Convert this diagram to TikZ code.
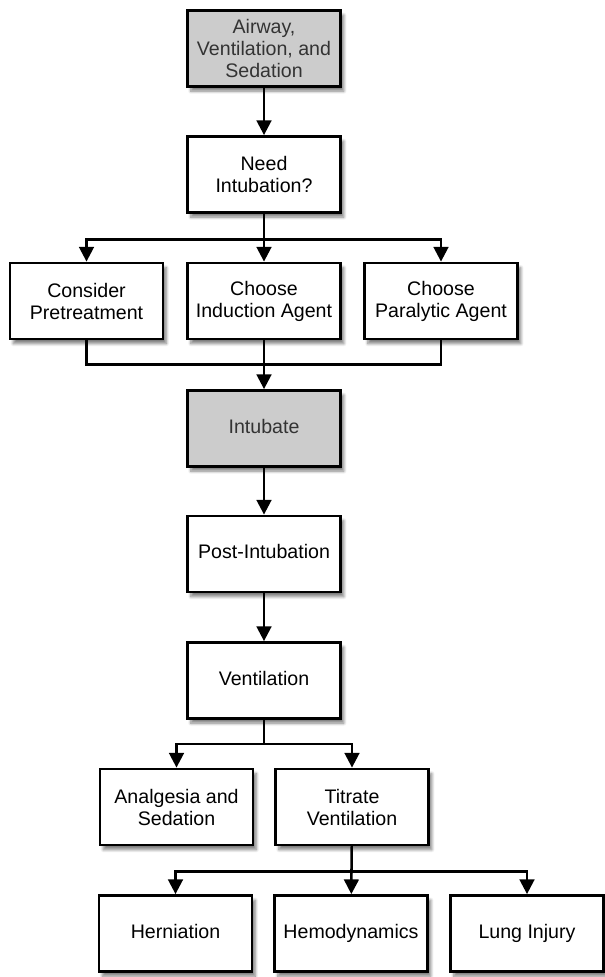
\documentclass[tikz,border=0pt]{standalone}
\usepackage{fontspec}
\setmainfont{Liberation Sans}
\usetikzlibrary{arrows.meta,shadows.blur}

\begin{document}
\begin{tikzpicture}[x=0.75pt,y=-0.75pt,
		box/.style={draw, line width=2.1pt, fill=white, align=center,
			minimum width=114.75pt, minimum height=57pt,
			font=\fontsize{14.7}{16.5}\selectfont,
			blur shadow={shadow xshift=2.5pt, shadow yshift=-3.5pt, shadow blur steps=8, shadow opacity=50}},
		keybox/.style={box, fill=gray!40, text=black!80},
		single/.style={text height=0.72em, text depth=0pt},
		arr/.style={line width=1.9pt, -{Triangle[width=11pt,length=11pt]}},
		link/.style={line width=1.9pt}]
	\useasboundingbox (0,0) rectangle (605,977);

	% main column
	\node[keybox] (air) at (264,48.5) {Airway,\\Ventilation, and\\Sedation};
	\node[box] (need) at (264,174.5) {Need\\Intubation?};

	% preparation
	\node[box] (pre) at (86.5,301) {Consider\\Pretreatment};
	\node[box] (ind) at (264,301) {Choose\\Induction Agent};
	\node[box] (para) at (441,301) {Choose\\Paralytic Agent};

	\node[keybox, single] (intub) at (264,428.5) {Intubate};
	\node[box, single] (post) at (264,554) {Post-Intubation};
	\node[box, single] (vent) at (264,680.5) {Ventilation};

	% ventilation care
	\node[box] (anal) at (176.5,807) {Analgesia and\\Sedation};
	\node[box] (titr) at (352,807) {Titrate\\Ventilation};

	\node[box, single] (hern) at (175.5,933.5) {Herniation};
	\node[box, single] (hemo) at (351,933.5) {Hemodynamics};
	\node[box, single] (lung) at (527,933.5) {Lung Injury};

	\draw[arr] (air) -- (need);
	\draw[arr] (need.south) -- ++(0,25.5) -| (pre.north);
	\draw[arr] (need) -- (ind);
	\draw[arr] (need.south) -- ++(0,25.5) -| (para.north);

	\draw[link] (pre.south) -- ++(0,24) -| (para.south);
	\draw[arr] (ind) -- (intub);
	\draw[arr] (intub) -- (post);
	\draw[arr] (post) -- (vent);

	\draw[arr] (vent.south) -- ++(0,24) -| (anal.north);
	\draw[arr] (vent.south) -- ++(0,24) -| (titr.north);

	\draw[arr] (titr.south) -- ++(0,25) -| (hern.north);
	\draw[arr] (titr) -- (hemo);
	\draw[arr] (titr.south) -- ++(0,25) -| (lung.north);
\end{tikzpicture}
\end{document}
